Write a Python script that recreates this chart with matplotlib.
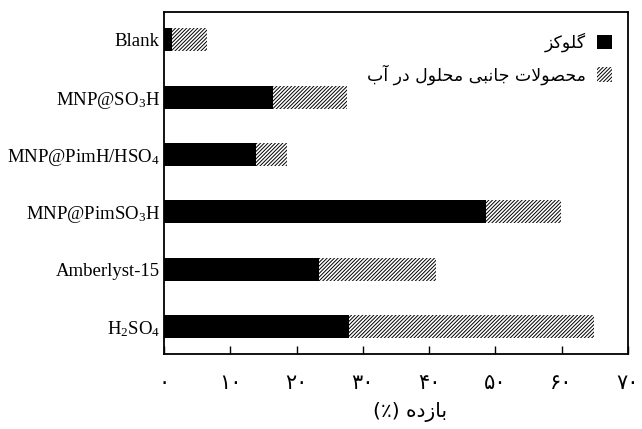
import numpy as np
import matplotlib
matplotlib.use('Agg')
import matplotlib.pyplot as plt

plt.rcParams['mathtext.fontset'] = 'custom'
plt.rcParams['mathtext.rm'] = 'Liberation Serif'
plt.rcParams['mathtext.it'] = 'Liberation Serif:italic'
plt.rcParams['hatch.linewidth'] = 0.7

catalysts = ['Blank', r'MNP@SO$_3$H', r'MNP@PimH/HSO$_4$',
             r'MNP@PimSO$_3$H', 'Amberlyst-15', r'H$_2$SO$_4$']
glucose = [1.2, 16.5, 13.9, 48.6, 23.4, 27.9]
side_products = [5.3, 11.1, 4.7, 11.3, 17.6, 37.0]

# Persian text written in visual order with presentation forms
# (matplotlib does no Arabic shaping): گلوکز / محصولات جانبی محلول در آب / بازده (٪)
label_glucose = '\uFEB0\uFB90\uFEEE\uFEE0\uFB94'
_side = ('\uFEE3\uFEA4\uFEBC\uFEEE\uFEFB\uFE95 '
         '\uFE9F\uFE8E\uFEE7\uFE92\uFBFD '
         '\uFEE3\uFEA4\uFEE0\uFEEE\uFEDD '
         '\uFEA9\uFEAD '
         '\uFE81\uFE8F')
label_side = _side[::-1]
xlabel = '(\u066A) ' + '\uFE91\uFE8E\uFEAF\uFEA9\uFEE9'[::-1]

xticks = [0, 10, 20, 30, 40, 50, 60, 70]
xtick_labels = ['\u06F0', '\u06F1\u06F0', '\u06F2\u06F0', '\u06F3\u06F0',
                '\u06F4\u06F0', '\u06F5\u06F0', '\u06F6\u06F0', '\u06F7\u06F0']

fig = plt.figure(figsize=(6.42, 4.29), dpi=100)
ax = fig.add_axes([0.2555, 0.175, 0.7225, 0.797])

y = np.arange(len(catalysts))[::-1]
ax.barh(y, glucose, height=0.4, color='black', linewidth=0, label=label_glucose)
ax.barh(y, side_products, left=glucose, height=0.4, color='white',
        edgecolor='black', hatch='/' * 9, linewidth=0, label=label_side)

ax.set_xlim(0, 70)
ax.set_ylim(-0.47, 5.48)
ax.set_yticks(y)
ax.set_yticklabels(catalysts, fontfamily='Liberation Serif', fontsize=13.5)
ax.tick_params(axis='y', length=0, pad=3)
ax.set_xticks(xticks)
ax.set_xticklabels(xtick_labels, fontfamily='DejaVu Sans', fontsize=15)
ax.tick_params(axis='x', direction='in', length=6, width=1, pad=14)
ax.set_xlabel(xlabel, fontfamily='DejaVu Sans', fontsize=14.5)
ax.xaxis.set_label_coords(0.53, -0.14)

for s in ax.spines.values():
    s.set_linewidth(1.3)

leg = ax.legend(loc='upper right', frameon=False, markerfirst=False,
                handlelength=0.9, handleheight=0.9,
                bbox_to_anchor=(1.0, 0.985), labelspacing=0.7, handletextpad=0.6,
                prop={'family': 'DejaVu Sans', 'size': 12.5})

fig.savefig('out.png', dpi=100)
